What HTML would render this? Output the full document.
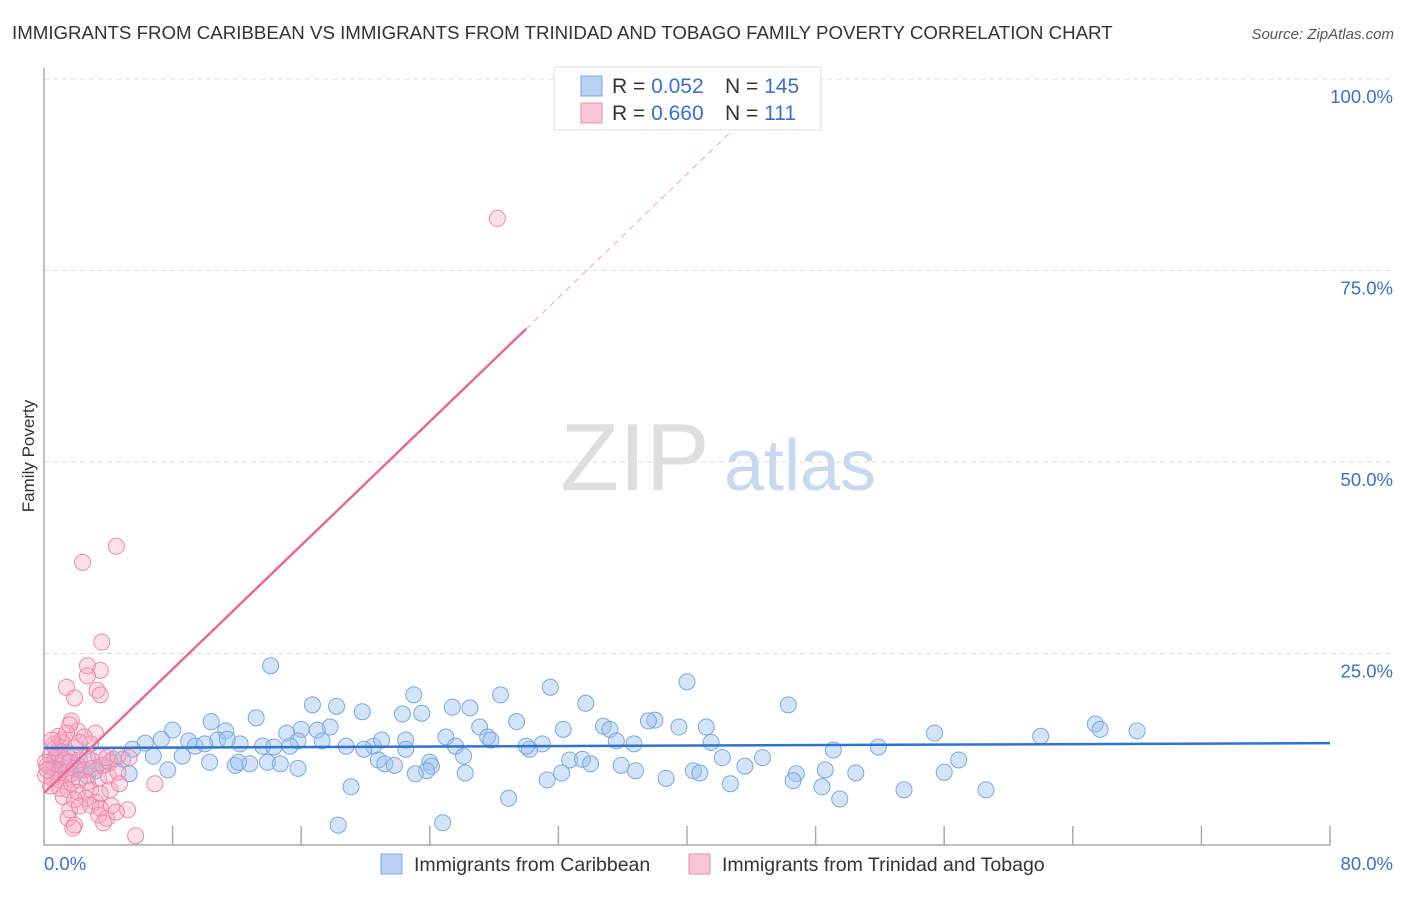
<!DOCTYPE html>
<html><head><meta charset="utf-8"><style>
body{margin:0;background:#fff;font-family:"Liberation Sans",sans-serif;}
svg text{font-family:"Liberation Sans",sans-serif;}
</style></head><body>
<svg id="chart" width="1406" height="892" xmlns="http://www.w3.org/2000/svg">
<text x="12" y="39" font-size="18.7" fill="#333">IMMIGRANTS FROM CARIBBEAN VS IMMIGRANTS FROM TRINIDAD AND TOBAGO FAMILY POVERTY CORRELATION CHART</text>
<text x="1394" y="39" font-size="15" fill="#555" font-style="italic" text-anchor="end">Source: ZipAtlas.com</text>
<text transform="translate(34,456) rotate(-90)" font-size="17" fill="#333" text-anchor="middle">Family Poverty</text>
<g>
<text x="635" y="490" font-size="96" fill="#dedede" font-family="Liberation Serif" text-anchor="middle">ZIP</text>
<text x="800" y="490" font-size="72" fill="#c8d8f0" text-anchor="middle">atlas</text>
</g>
<g id="grid"></g><g id="axes"></g><g id="pts"></g><g id="lines"></g>
<g>
<rect x="554" y="67" width="267" height="63" fill="#fff" stroke="#ddd"/>
<rect x="581" y="76" width="21" height="20" fill="#b8d2f4" stroke="#7aa8e0"/>
<rect x="581" y="103" width="21" height="20" fill="#f9c6d6" stroke="#ee88aa"/>
<text x="612" y="93" font-size="21" fill="#333">R = <tspan fill="#3a6fd0">0.052</tspan></text>
<text x="725" y="93" font-size="21" fill="#333">N = <tspan fill="#3a6fd0">145</tspan></text>
<text x="612" y="120" font-size="21" fill="#333">R = <tspan fill="#3a6fd0">0.660</tspan></text>
<text x="725" y="120" font-size="21" fill="#333">N = <tspan fill="#3a6fd0"> 111</tspan></text>
</g>
<g>
<rect x="381" y="854" width="21" height="20" fill="#b8d2f4" stroke="#7aa8e0"/>
<text x="414" y="871" font-size="19.5" fill="#333">Immigrants from Caribbean</text>
<rect x="689" y="854" width="21" height="20" fill="#f9c6d6" stroke="#ee88aa"/>
<text x="722" y="871" font-size="19.5" fill="#333">Immigrants from Trinidad and Tobago</text>
</g>
</svg>
<script>
const yTicks=[25,50,75,100];
const yTickLabels=["25.0%","50.0%","75.0%","100.0%"];
const xTicks=[8,16,24,32,40,48,56,64,72,80];
const blueX=[14.1,31.5,40.0,23.0,28.4,33.7,46.3,16.7,18.2,25.4,26.5,19.8,22.3,23.5,13.2,10.4,38.0,37.6,34.8,35.2,29.4,27.1,65.4,65.7,68.0,41.2,39.5,17.8,17.0,16.0,15.1,8.0,11.3,32.3,27.6,27.8,25.0,22.5,17.3,15.8,7.3,9.0,10.8,12.2,11.4,9.4,10.0,13.6,14.3,15.3,18.8,20.5,21.0,55.4,62.0,51.9,41.5,36.7,35.6,31.0,30.2,30.0,25.6,22.5,19.9,49.1,6.3,6.8,5.5,4.3,4.9,3.0,3.7,8.6,10.3,11.9,12.8,13.9,14.7,12.1,20.8,21.2,24.0,24.1,26.1,32.7,33.5,34.0,35.9,42.2,44.7,56.9,56.0,50.5,48.6,46.8,40.4,40.8,38.7,36.8,32.2,31.3,26.2,23.8,23.1,21.8,15.8,7.7,5.3,3.2,2.3,1.7,1.0,42.7,46.6,48.4,49.5,53.5,58.6,43.6,19.1,28.9,18.3,24.8,1.2,0.7,0.4,1.6,2.1,2.7];
const blueY=[23.4,20.6,21.3,19.6,19.6,18.5,18.3,18.3,18.1,18.0,17.9,17.4,17.1,17.2,16.6,16.1,16.3,16.2,15.5,15.1,16.1,15.4,15.8,15.1,14.9,15.4,15.4,15.4,15.0,15.1,14.6,15.0,14.9,15.1,14.1,13.7,14.1,13.7,13.6,13.6,13.8,13.6,13.7,13.2,13.8,12.9,13.2,12.9,12.8,12.9,12.9,12.9,13.7,14.6,14.2,12.8,13.4,13.2,13.6,13.2,12.5,12.9,12.9,12.5,12.5,12.4,13.3,11.6,12.5,11.2,11.2,11.0,10.4,11.6,10.8,10.4,10.6,10.8,10.6,10.8,11.1,10.6,10.8,10.3,11.6,11.1,11.2,10.6,10.4,11.4,11.4,11.1,9.5,9.4,9.8,9.3,9.7,9.4,8.7,9.7,9.4,8.5,9.4,9.7,9.3,10.4,10.0,9.8,9.3,9.7,9.8,9.3,9.8,8.0,8.4,7.6,6.0,7.2,7.2,10.3,7.6,6.1,2.6,2.9,10.7,11.1,10.2,11.4,10.4,9.0];
const pinkX=[28.2,4.5,2.4,3.6,2.7,3.5,2.7,1.4,3.3,3.5,1.9,1.7,2.1,1.6,3.2,1.1,2.5,2.9,0.6,0.9,1.4,1.9,0.4,0.7,1.2,1.6,2.2,2.7,3.4,0.2,0.6,1.0,1.4,1.9,2.5,3.0,3.6,4.1,0.1,0.5,0.9,1.4,1.7,2.2,2.7,3.4,4.0,4.6,0.4,1.0,1.5,2.1,2.9,3.5,4.1,4.7,6.9,1.2,1.9,2.6,3.2,1.6,2.2,2.9,3.5,4.2,1.5,3.4,3.9,5.2,4.5,1.9,1.8,3.7,5.7,0.1,0.2,0.7,1.1,0.9,1.4,0.5,2.2,3.9,4.6,5.3];
const pinkY=[81.8,39.0,36.9,26.5,23.4,22.8,22.1,20.6,20.2,19.6,19.2,16.2,14.9,15.7,14.6,13.4,14.1,13.2,13.1,12.4,12.1,12.7,11.7,11.4,11.1,10.8,11.1,11.4,11.6,10.4,10.0,9.8,9.5,10.0,9.8,10.0,10.4,10.8,9.1,8.7,8.5,8.7,8.1,8.5,8.2,8.7,9.0,9.5,7.7,7.4,7.2,6.9,7.2,6.7,7.2,8.0,8.0,6.3,5.9,6.1,5.6,4.6,5.1,5.2,4.8,5.1,3.5,3.9,3.5,4.6,4.3,2.6,2.2,2.9,1.2,10.8,9.8,12.7,13.7,14.2,14.6,13.7,13.4,11.4,11.6,11.4];
const blueTrend=[12.66,0.008];
const pinkTrend=[6.8,2.02];
const pinkSolidEnd=30, pinkDashEnd=43.3;
const NS="http://www.w3.org/2000/svg";
const X=v=>44+v*16.075, Y=v=>845-v*7.66;
function mk(tag,attrs,parent){const e=document.createElementNS(NS,tag);for(const k in attrs)e.setAttribute(k,attrs[k]);parent.appendChild(e);return e;}
const grid=document.getElementById('grid'),axes=document.getElementById('axes'),pts=document.getElementById('pts'),lines=document.getElementById('lines');
yTicks.forEach((t,i)=>{
 const l=mk('line',{x1:44,x2:1394,y1:Y(t),y2:Y(t),stroke:'#ddd','stroke-dasharray':'5,4'},grid);
 
 
 const tx=mk('text',{x:1393,y:Y(t)+24,'font-size':18.5,fill:'#3a6fd0','text-anchor':'end'},grid);
 tx.textContent=yTickLabels[i];
 
 
});
const ax=mk('path',{d:`M44 68V${Y(0)}H${X(80)}`,fill:'none',stroke:'#aaa','stroke-width':1.5},axes);


xTicks.forEach(t=>{
 const l=mk('line',{x1:X(t),x2:X(t),y1:Y(0)-19,y2:Y(0),stroke:'#aaa','stroke-width':1.5},axes);
 
 
});
const x0=mk('text',{x:44,y:870,'font-size':18.5,fill:'#3a6fd0'},axes);x0.textContent='0.0%';


const x1=mk('text',{x:1393,y:870,'font-size':18.5,fill:'#3a6fd0','text-anchor':'end'},axes);x1.textContent='80.0%';


blueX.forEach((v,i)=>{
 const c=mk('circle',{cx:X(v),cy:Y(blueY[i]),r:8,fill:'rgba(160,196,240,0.45)',stroke:'#7aa8e0','stroke-width':1},pts);
 
 
});
pinkX.forEach((v,i)=>{
 const c=mk('circle',{cx:X(v),cy:Y(pinkY[i]),r:8,fill:'rgba(245,170,195,0.35)',stroke:'#ee88aa','stroke-width':1},pts);
 
 
});
const bl=mk('line',{x1:X(0),y1:Y(blueTrend[0]),x2:X(80),y2:Y(blueTrend[0]+blueTrend[1]*80),stroke:'#2f73d0','stroke-width':2.5},lines);


const pl=mk('line',{x1:X(0),y1:Y(pinkTrend[0]),x2:X(pinkSolidEnd),y2:Y(pinkTrend[0]+pinkTrend[1]*pinkSolidEnd),stroke:'#e8689a','stroke-width':2.5},lines);


const pd=mk('line',{x1:X(pinkSolidEnd),y1:Y(pinkTrend[0]+pinkTrend[1]*pinkSolidEnd),x2:X(pinkDashEnd),y2:Y(pinkTrend[0]+pinkTrend[1]*pinkDashEnd),stroke:'#f0a0bc','stroke-width':1,'stroke-dasharray':'6,5'},lines);


</script>
</body></html>
